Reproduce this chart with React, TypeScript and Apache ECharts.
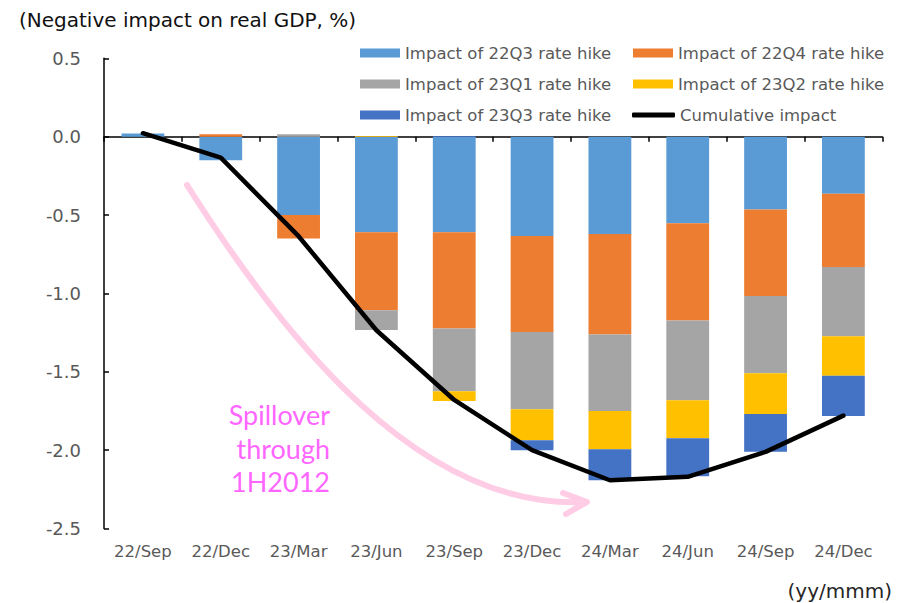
import React, { useEffect, useRef } from "react";
import * as echarts from "echarts";

const categories = ["22/Sep", "22/Dec", "23/Mar", "23/Jun", "23/Sep", "23/Dec", "24/Mar", "24/Jun", "24/Sep", "24/Dec"];
const hike22Q3 = [0.02, -0.15, -0.5, -0.61, -0.61, -0.634, -0.621, -0.553, -0.464, -0.364];
const hike22Q4 = [0, 0.015, -0.15, -0.497, -0.614, -0.613, -0.641, -0.62, -0.553, -0.468];
const hike23Q1 = [0, 0, 0.015, -0.127, -0.4, -0.492, -0.488, -0.508, -0.492, -0.441];
const hike23Q2 = [0, 0, 0, 0.005, -0.062, -0.198, -0.244, -0.243, -0.26, -0.253];
const hike23Q3 = [0, 0, 0, 0, 0.005, -0.063, -0.198, -0.243, -0.242, -0.256];
const cumulative = [0.022, -0.134, -0.635, -1.235, -1.68, -2.0, -2.192, -2.17, -2.011, -1.78];

const barNames = [
  "Impact of 22Q3 rate hike",
  "Impact of 22Q4 rate hike",
  "Impact of 23Q1 rate hike",
  "Impact of 23Q2 rate hike",
  "Impact of 23Q3 rate hike",
];
const lineName = "Cumulative impact";
const barColors = ["#5B9BD5", "#ED7D31", "#A5A5A5", "#FFC000", "#4472C4"];
const barData = [hike22Q3, hike22Q4, hike23Q1, hike23Q2, hike23Q3];

const FONT = "DejaVu Sans";

export default function App() {
  const ref = useRef<HTMLDivElement>(null);
  useEffect(() => {
    document.body.style.margin = "0";
    if (!ref.current) return;
    const chart = echarts.init(ref.current, undefined, { renderer: "svg" });
    const legendText = { fontFamily: FONT, fontSize: 16.5, color: "#595959", lineHeight: 18 };
    chart.setOption({
      animation: false,
      backgroundColor: "#ffffff",
      grid: { left: 104, right: 14.7, top: 58.3, bottom: 74.5, containLabel: false },
      legend: [
        {
          orient: "vertical",
          left: 355,
          top: 39,
          itemWidth: 40,
          itemHeight: 9,
          itemGap: 13,
          icon: "rect",
          textStyle: legendText,
          data: [barNames[0], barNames[2], barNames[4]],
        },
        {
          orient: "vertical",
          left: 628,
          top: 39,
          itemWidth: 40,
          itemHeight: 9,
          itemGap: 13,
          icon: "rect",
          textStyle: legendText,
          data: [barNames[1], barNames[3]],
        },
        {
          orient: "vertical",
          left: 627,
          top: 101,
          itemWidth: 43,
          itemHeight: 5,
          icon: "roundRect",
          textStyle: legendText,
          itemStyle: { color: "#000" },
          data: [lineName],
        },
      ],
      xAxis: [
        {
          type: "category",
          data: categories,
          position: "bottom",
          axisLine: { show: true, onZero: true, lineStyle: { color: "#000", width: 1.5 } },
          axisTick: { show: true, length: 5, lineStyle: { color: "#000", width: 1.5 } },
          axisLabel: { show: false },
          splitLine: { show: false },
        },
        {
          type: "category",
          data: categories,
          position: "bottom",
          axisLine: { show: false, onZero: false },
          axisTick: { show: false },
          axisLabel: { show: true, interval: 0, fontFamily: FONT, fontSize: 16.5, color: "#595959", margin: 14 },
          splitLine: { show: false },
        },
      ],
      yAxis: {
        type: "value",
        min: -2.5,
        max: 0.5,
        interval: 0.5,
        axisLine: { show: true, lineStyle: { color: "#000", width: 1.5 } },
        axisTick: { show: true, inside: true, length: 5, lineStyle: { color: "#000", width: 1.5 } },
        axisLabel: {
          fontFamily: FONT,
          fontSize: 18,
          color: "#595959",
          margin: 23,
          formatter: (v: number) => v.toFixed(1),
        },
        splitLine: { show: false },
      },
      series: [
        ...barData.map((d, i) => ({
          name: barNames[i],
          type: "bar",
          stack: "total",
          xAxisIndex: 0,
          barWidth: "55%",
          itemStyle: { color: barColors[i] },
          data: d,
          z: 2,
        })),
        {
          name: lineName,
          type: "line",
          xAxisIndex: 0,
          data: cumulative,
          symbol: "none",
          lineStyle: { color: "#000", width: 4.5, cap: "round", join: "round" },
          itemStyle: { color: "#000" },
          z: 5,
        },
      ],
      graphic: [
        {
          type: "text",
          left: 19,
          top: 10,
          style: {
            text: "(Negative impact on real GDP, %)",
            fontFamily: FONT,
            fontSize: 20,
            fill: "#111111",
          },
        },
        {
          type: "text",
          x: 892,
          y: 591,
          style: {
            text: "(yy/mmm)",
            fontFamily: FONT,
            fontSize: 20,
            fill: "#262626",
            textAlign: "right",
            textVerticalAlign: "middle",
          },
        },
        {
          type: "bezierCurve",
          shape: { x1: 187, y1: 185, cpx1: 285, cpy1: 340, cpx2: 420, cpy2: 510, x2: 585, y2: 502 },
          style: { stroke: "#FFCCE5", lineWidth: 6, fill: "none", lineCap: "round" },
          z: 1,
        },
        {
          type: "polyline",
          shape: { points: [[563, 493], [587, 502], [566, 514]] },
          style: { stroke: "#FFCCE5", lineWidth: 6, fill: "none", lineCap: "round", lineJoin: "round" },
          z: 1,
        },
        {
          type: "text",
          x: 330,
          y: 398,
          style: {
            text: "Spillover\nthrough\n1H2012",
            fontFamily: "Lato",
            fontSize: 27,
            lineHeight: 33.5,
            fill: "#FF66FF",
            textAlign: "right",
            textVerticalAlign: "top",
          },
        },
      ],
    });
    return () => chart.dispose();
  }, []);
  return <div ref={ref} style={{ width: 897, height: 603 }} />;
}
